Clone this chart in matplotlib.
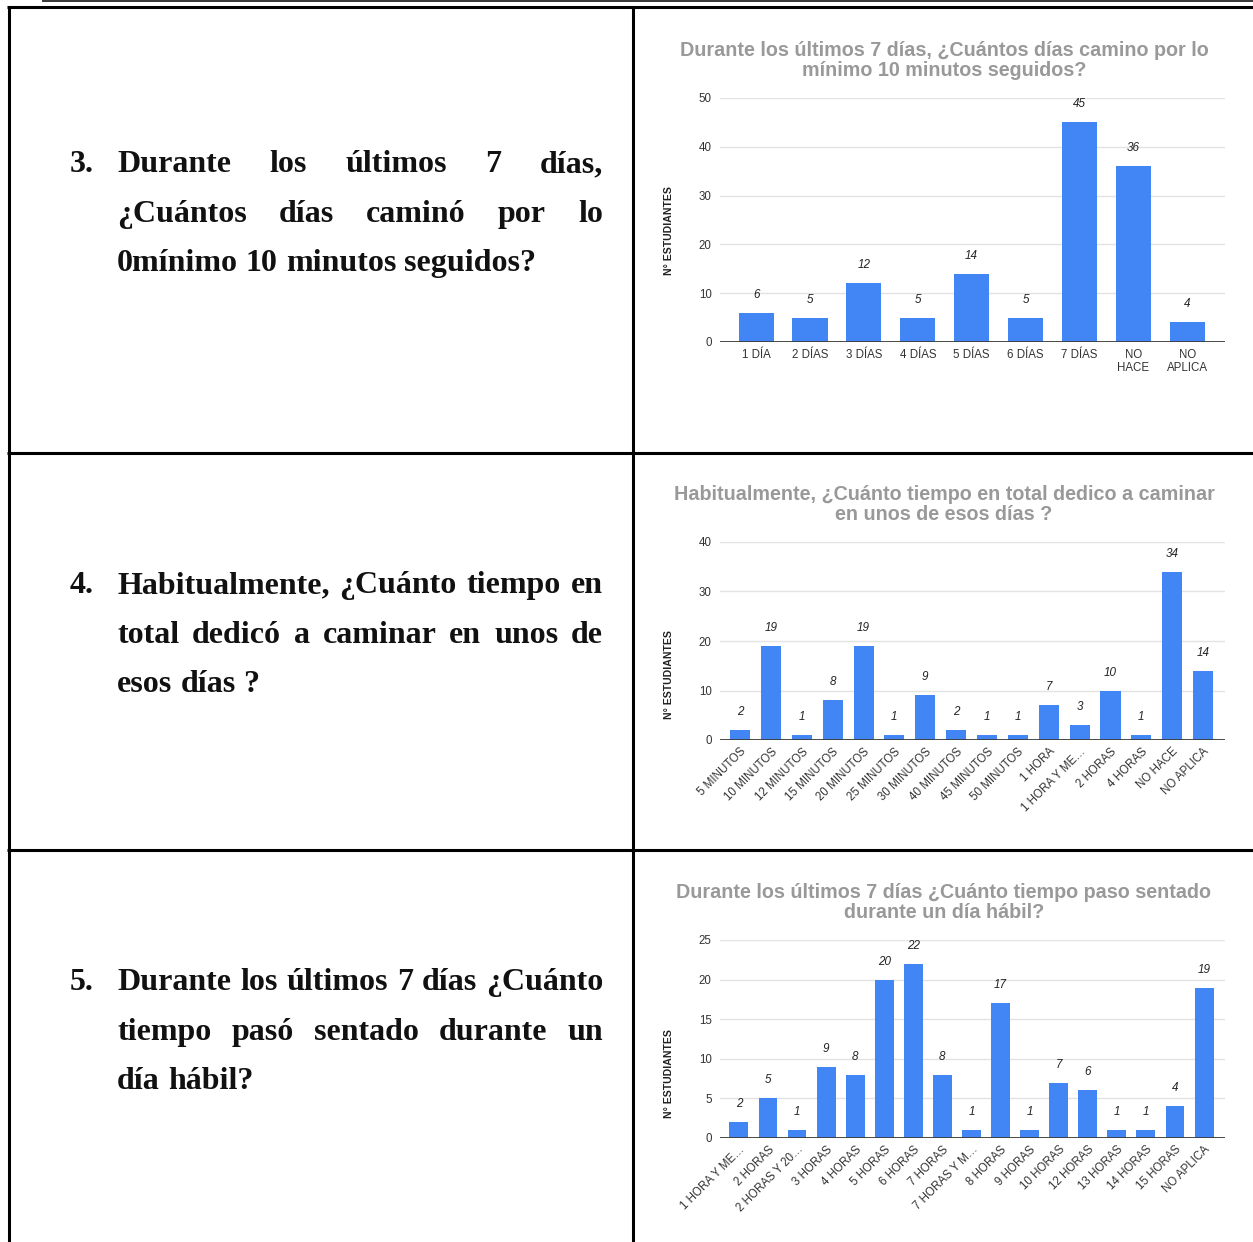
import matplotlib
matplotlib.use("Agg")
import matplotlib.pyplot as plt
from matplotlib.lines import Line2D
from matplotlib.transforms import Affine2D

# ---------------------------------------------------------------- data
q3_text = [
    "Durante los últimos 7 días,",
    "¿Cuántos días caminó por lo",
    "0mínimo 10 minutos seguidos?",
]
q4_text = [
    "Habitualmente, ¿Cuánto tiempo en",
    "total dedicó a caminar en unos de",
    "esos días ?",
]
q5_text = [
    "Durante los últimos 7 días ¿Cuánto",
    "tiempo pasó sentado durante un",
    "día hábil?",
]

dias_title = ["Durante los últimos 7 días, ¿Cuántos días camino por lo",
              "mínimo 10 minutos seguidos?"]
dias_cats = ["1 DÍA", "2 DÍAS", "3 DÍAS", "4 DÍAS", "5 DÍAS", "6 DÍAS",
             "7 DÍAS", "NO\nHACE", "NO\nAPLICA"]
dias_vals = [6, 5, 12, 5, 14, 5, 45, 36, 4]
dias_ticks = [0, 10, 20, 30, 40, 50]

tiempo_title = ["Habitualmente, ¿Cuánto tiempo en total dedico a caminar",
                "en unos de esos días ?"]
tiempo_cats = ["5 MINUTOS", "10 MINUTOS", "12 MINUTOS", "15 MINUTOS",
               "20 MINUTOS", "25 MINUTOS", "30 MINUTOS", "40 MINUTOS",
               "45 MINUTOS", "50 MINUTOS", "1 HORA", "1 HORA Y ME…",
               "2 HORAS", "4 HORAS", "NO HACE", "NO APLICA"]
tiempo_vals = [2, 19, 1, 8, 19, 1, 9, 2, 1, 1, 7, 3, 10, 1, 34, 14]
tiempo_ticks = [0, 10, 20, 30, 40]

sentado_title = ["Durante los últimos 7 días ¿Cuánto tiempo paso sentado",
                 "durante un día hábil?"]
sentado_cats = ["1 HORA Y ME…", "2 HORAS", "2 HORAS Y 20…", "3 HORAS",
                "4 HORAS", "5 HORAS", "6 HORAS", "7 HORAS", "7 HORAS Y M…",
                "8 HORAS", "9 HORAS", "10 HORAS", "12 HORAS", "13 HORAS",
                "14 HORAS", "15 HORAS", "NO APLICA"]
sentado_vals = [2, 5, 1, 9, 8, 20, 22, 8, 1, 17, 1, 7, 6, 1, 1, 4, 19]
sentado_ticks = [0, 5, 10, 15, 20, 25]

# ---------------------------------------------------------------- figure
W, H, DPI = 1253, 1242, 100
fig = plt.figure(figsize=(W / DPI, H / DPI), dpi=DPI)
fig.patch.set_facecolor("white")

# pixel coordinates measured from the top-left corner
PX = Affine2D().scale(1, -1).translate(0, H)

SANS = "Liberation Sans"
SERIF = "Liberation Serif"
BLUE = "#4285F4"
TITLE_GRAY = "#999999"
INK = "#333333"


def hline(y, x0, x1, lw):
    fig.add_artist(Line2D([x0, x1], [y, y], transform=PX, color="black",
                          lw=lw, solid_capstyle="butt"))


def vline(x, y0, y1, lw):
    fig.add_artist(Line2D([x, x], [y0, y1], transform=PX, color="black",
                          lw=lw, solid_capstyle="butt"))


# table rules
hline(0.8, 42, W, 1.1)
hline(7.2, 7, W, 2.2)
hline(452.8, 7, W, 2.2)
hline(849.5, 7, W, 2.2)
vline(8.5, 6, H, 2.2)
vline(632.5, 6, H, 2.2)

renderer = fig.canvas.get_renderer()
BODY = dict(family=SERIF, weight="bold", size=23, color="#111111",
            va="baseline", transform=PX)


def measure(s):
    t = fig.text(0, 0, s, **BODY)
    w = t.get_window_extent(renderer).width
    t.remove()
    return w


SPACE = measure("a a") - 2 * measure("a")


def text_line(line, x0, x1, y, justify):
    words = line.split(" ")
    items = [fig.text(0, y, w, **BODY) for w in words]
    widths = [t.get_window_extent(renderer).width for t in items]
    if justify and len(items) > 1:
        gap = (x1 - x0 - sum(widths)) / (len(items) - 1)
    else:
        gap = SPACE
    x = x0
    for t, w in zip(items, widths):
        t.set_x(x)
        x += w + gap


def question(num, lines, base_y):
    fig.text(70, base_y, num, **BODY)
    for i, line in enumerate(lines):
        text_line(line, 117, 603, base_y + i * 49.6,
                  justify=(i < len(lines) - 1))


question("3.", q3_text, 172)
question("4.", q4_text, 593)
question("5.", q5_text, 990)


def bar_panel(top, bottom, cats, vals, ticks, title, title_y, ylab_y,
              xlim, rotate):
    ax = fig.add_axes([720 / W, 1 - bottom / H, 505 / W, (bottom - top) / H])
    x = list(range(len(cats)))
    ax.bar(x, vals, width=0.65, color=BLUE, zorder=3)
    ax.set_xlim(*xlim)
    ax.set_ylim(ticks[0], ticks[-1])
    ax.set_yticks(ticks)
    ax.yaxis.grid(True, color="#e3e3e3", lw=1.0)
    ax.set_axisbelow(True)
    for s in ax.spines.values():
        s.set_visible(False)
    ax.axhline(0, color="#3c3c3c", lw=1.3, zorder=4)
    ax.tick_params(axis="both", length=0, labelsize=8.3, labelcolor=INK)
    ax.tick_params(axis="y", pad=6)
    for lab in ax.get_yticklabels():
        lab.set_family(SANS)
    ax.set_xticks(x)
    if rotate:
        ax.set_xticklabels(cats, rotation=45, ha="right",
                           rotation_mode="anchor", family=SANS)
        ax.tick_params(axis="x", pad=4)
    else:
        ax.set_xticklabels(cats, family=SANS, linespacing=1.1)
        ax.tick_params(axis="x", pad=5)
    for xi, v in zip(x, vals):
        ax.annotate(str(v), (xi, v), xytext=(0, 18), textcoords="offset pixels",
                    ha="center", va="center", fontsize=8.4, style="italic",
                    family=SANS, color="#222222", zorder=5)
    for k, line in enumerate(title):
        fig.text(944, title_y + 20 * k, line, transform=PX, ha="center",
                 va="center", family=SANS, weight="bold", size=14.2,
                 color=TITLE_GRAY)
    fig.text(669, ylab_y, "N° ESTUDIANTES", transform=PX, rotation=90,
             ha="center", va="center", family=SANS, weight="bold",
             size=7.6, color="#222222")
    return ax


bar_panel(98, 342, dias_cats, dias_vals, dias_ticks, dias_title, 50, 231,
          (-0.67, 8.7), rotate=False)
bar_panel(542, 740, tiempo_cats, tiempo_vals, tiempo_ticks, tiempo_title, 494,
          675, (-0.65, 15.71), rotate=True)
bar_panel(940, 1138, sentado_cats, sentado_vals, sentado_ticks, sentado_title,
          892, 1074, (-0.65, 16.72), rotate=True)

fig.savefig("out.png", dpi=DPI, facecolor="white")
